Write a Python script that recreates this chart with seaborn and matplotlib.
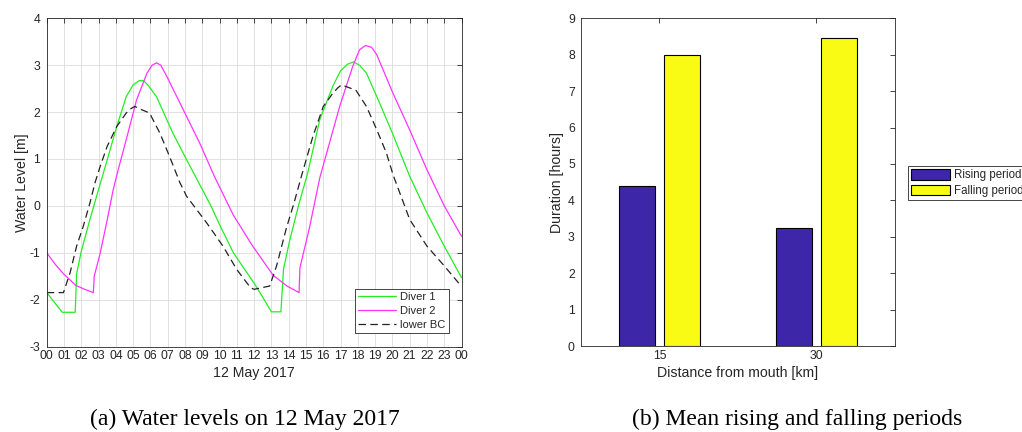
import numpy as np
import pandas as pd
import matplotlib
matplotlib.use("Agg")
import matplotlib.pyplot as plt
from matplotlib.patches import Patch
import seaborn as sns

# ---------------- data: (a) water levels ----------------
diver1_t = [0, 0.9, 1.65, 1.73, 2.0, 2.5, 3.0, 3.5, 4.05, 4.6, 5.0, 5.35, 5.6, 5.85, 6.35, 7.3, 8.0,
            8.7, 9.5, 10.0, 10.8, 11.5, 12.0, 12.5, 13.0, 13.55, 13.7, 14.05, 14.6, 15.1, 15.8, 16.55,
            17.0, 17.4, 17.75, 18.1, 18.5, 19.25, 20.0, 21.0, 22.0, 23.0, 24.0]
diver1_v = [-1.85, -2.27, -2.27, -1.45, -0.97, -0.29, 0.35, 0.98, 1.69, 2.33, 2.58, 2.67, 2.67, 2.58,
            2.33, 1.55, 1.05, 0.56, 0.0, -0.4, -1.0, -1.38, -1.65, -1.95, -2.26, -2.26, -1.35, -0.75,
            0.05, 0.7, 1.84, 2.55, 2.88, 3.02, 3.07, 3.0, 2.83, 2.2, 1.55, 0.63, -0.15, -0.86, -1.53]

diver2_t = [0, 0.5, 1.0, 1.7, 2.2, 2.7, 2.75, 3.1, 3.5, 3.85, 4.1, 4.6, 5.2, 5.8, 6.1, 6.35, 6.6,
            6.95, 7.9, 8.85, 9.7, 10.8, 11.9, 13.1, 13.9, 14.6, 14.65, 15.2, 15.8, 16.95, 17.7, 18.1,
            18.45, 18.8, 19.1, 20.0, 21.0, 22.0, 23.0, 24.0]
diver2_v = [-1.0, -1.25, -1.46, -1.70, -1.78, -1.85, -1.50, -1.0, -0.3, 0.35, 0.72, 1.41, 2.26, 2.83,
            3.0, 3.05, 3.0, 2.76, 2.05, 1.34, 0.63, -0.2, -0.85, -1.48, -1.71, -1.85, -1.32, -0.47,
            0.6, 2.12, 2.97, 3.33, 3.42, 3.38, 3.22, 2.43, 1.62, 0.77, 0.0, -0.65]

lowerbc_t = [0, 0.97, 1.35, 1.73, 2.12, 2.5, 2.8, 3.1, 3.5, 4.05, 4.6, 4.9, 5.1, 5.5, 5.95, 6.55, 7.1,
             7.7, 8.1, 9.25, 10.2, 11.0, 11.8, 12.0, 12.9, 13.3, 13.87, 14.3, 14.75, 15.4, 16.0,
             16.55, 16.85, 17.05, 17.5, 17.9, 18.5, 19.1, 19.65, 20.05, 21.0, 22.0, 23.0, 24.0]
lowerbc_v = [-1.85, -1.85, -1.43, -0.86, -0.43, 0.06, 0.5, 0.85, 1.27, 1.69, 1.98, 2.08, 2.12, 2.05,
             1.98, 1.55, 1.06, 0.5, 0.2, -0.36, -0.86, -1.36, -1.75, -1.78, -1.71, -1.28, -0.47,
             0.05, 0.65, 1.48, 2.12, 2.4, 2.52, 2.58, 2.52, 2.46, 2.12, 1.62, 1.13, 0.65, -0.29,
             -0.86, -1.28, -1.72]

hour_labels = ["00", "01", "02", "03", "04", "05", "06", "07", "08", "09", "10", "11", "12",
               "13", "14", "15", "16", "17", "18", "19", "20", "21", "22", "23", "00"]
level_ticks = [-3, -2, -1, 0, 1, 2, 3, 4]

# ---------------- data: (b) durations ----------------
distances = ["15", "30"]
periods = ["Rising period", "Falling period"]
rising_hours = [4.4, 3.23]
falling_hours = [8.0, 8.47]

# ---------------- style ----------------
sns.set_theme(style="white")
plt.rcParams["font.family"] = ["Liberation Sans", "DejaVu Sans"]
AX = "#262626"
plt.rcParams.update({
    "axes.edgecolor": AX, "axes.linewidth": 0.6,
    "xtick.color": AX, "ytick.color": AX,
    "xtick.labelcolor": AX, "ytick.labelcolor": AX,
    "axes.labelcolor": AX, "text.color": AX,
    "axes.unicode_minus": False,
})

fig = plt.figure(figsize=(10.22, 4.32), dpi=100)
axL = fig.add_axes([0.0457, 0.1979, 0.4059, 0.7597])
axR = fig.add_axes([0.5685, 0.1990, 0.3072, 0.7586])

# ---- left panel ----
d1 = pd.DataFrame({"t": diver1_t, "v": diver1_v})
d2 = pd.DataFrame({"t": diver2_t, "v": diver2_v})
d3 = pd.DataFrame({"t": lowerbc_t, "v": lowerbc_v})
sns.lineplot(data=d1, x="t", y="v", ax=axL, color="#22ee22", lw=0.9, sort=False,
             estimator=None, label="Diver 1")
sns.lineplot(data=d2, x="t", y="v", ax=axL, color="#ff33ff", lw=0.9, sort=False,
             estimator=None, label="Diver 2")
sns.lineplot(data=d3, x="t", y="v", ax=axL, color="#222222", lw=0.9, sort=False,
             estimator=None, label="lower BC", linestyle=(0, (6, 3.5)))

axL.set_xlim(0, 24)
axL.set_ylim(-3, 4)
axL.set_xticks(range(len(hour_labels)))
axL.set_xticklabels(hour_labels)
axL.set_yticks(level_ticks)
axL.grid(True, color="#dcdcdc", lw=0.6)
axL.set_axisbelow(True)
axL.tick_params(direction="in", top=True, right=True, length=3.5, width=0.6,
                labelsize=8.7, pad=2.5)
axL.tick_params(axis="y", pad=4.8)
axL.set_xlabel("12 May 2017", fontsize=10.2, labelpad=3)
axL.set_ylabel("Water Level [m]", fontsize=10.2, labelpad=0.5)
h, l = axL.get_legend_handles_labels()
axL.legend(h, l, loc="lower right", bbox_to_anchor=(0.970, 0.041), borderaxespad=0,
           fontsize=8, frameon=True, fancybox=False, framealpha=1, edgecolor=AX,
           handlelength=3.4, handletextpad=0.4, labelspacing=0.35, borderpad=0.3)
axL.get_legend().get_frame().set_linewidth(0.6)

# ---- right panel ----
bars = pd.DataFrame({
    "distance": distances * 2,
    "period": [periods[0]] * 2 + [periods[1]] * 2,
    "hours": rising_hours + falling_hours,
})
palette = {periods[0]: "#3e26a8", periods[1]: "#f9fb15"}
sns.barplot(data=bars, x="distance", y="hours", hue="period", order=distances,
            hue_order=periods, palette=palette, width=0.58, gap=0.2, ax=axR,
            edgecolor="black", linewidth=0.8, saturation=1, legend=False, errorbar=None)
axR.set_xlim(-0.5, 1.5)
axR.set_ylim(0, 9)
axR.set_yticks(range(0, 10))
axR.tick_params(direction="in", top=True, right=True, length=3.5, width=0.6,
                labelsize=8.7, pad=2.5)
axR.tick_params(axis="y", pad=4.5)
axR.set_xlabel("Distance from mouth [km]", fontsize=10.2, labelpad=3)
axR.set_ylabel("Duration [hours]", fontsize=10.2, labelpad=3)
for s in axR.spines.values():
    s.set_visible(True)
handles = [Patch(facecolor=palette[p], edgecolor="black", linewidth=0.8) for p in periods]
legR = axR.legend(handles, periods, loc="upper left", bbox_to_anchor=(1.0404, 0.550),
                  borderaxespad=0, fontsize=8.3, frameon=True, fancybox=False, framealpha=1,
                  edgecolor=AX, handlelength=3.4, handleheight=1.0, handletextpad=0.3,
                  labelspacing=0.3, borderpad=0.3)
legR.get_frame().set_linewidth(0.6)

# ---- captions ----
fig.text(0.240, 0.030, "(a) Water levels on 12 May 2017", ha="center", va="center",
         fontsize=17, family=["Liberation Serif", "DejaVu Serif"], color="black")
fig.text(0.780, 0.030, "(b) Mean rising and falling periods", ha="center", va="center",
         fontsize=17, family=["Liberation Serif", "DejaVu Serif"], color="black")

fig.savefig("out.png", dpi=100)
